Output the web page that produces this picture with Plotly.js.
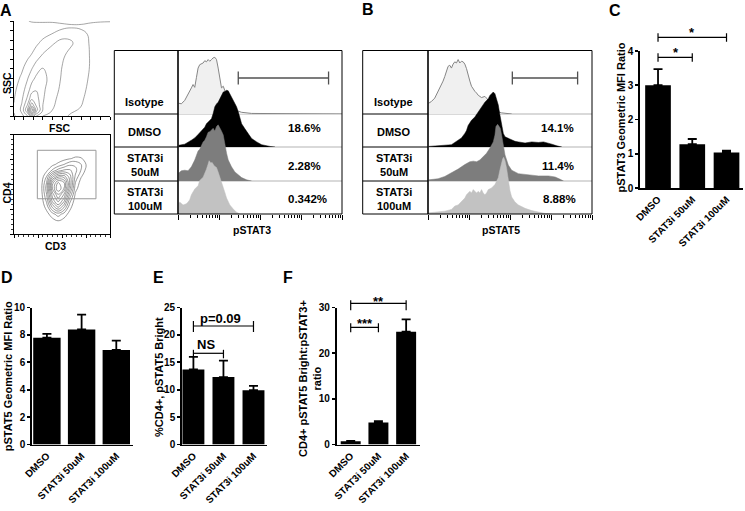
<!DOCTYPE html>
<html><head><meta charset="utf-8">
<script src="https://cdn.plot.ly/plotly-3.0.1.min.js"></script>
<style>html,body{margin:0;padding:0;background:#fff}#chart{width:745px;height:511px}</style>
</head><body><div id="chart"></div>
<script>
// ---------------- DATA ----------------
const categories = ['DMSO', 'STAT3i 50uM', 'STAT3i 100uM'];
const rowLabels = ['Isotype', 'DMSO', 'STAT3i<br>50uM', 'STAT3i<br>100uM'];
const pstat3_pct = ['18.6%', '2.28%', '0.342%'];
const pstat5_pct = ['14.1%', '11.4%', '8.88%'];

const pstat3_mfi = [3.0, 1.28, 1.04];
const pstat3_err = [0.47, 0.15, 0.05];
const pstat5_mfi = [7.8, 8.4, 6.9];
const pstat5_err = [0.27, 1.08, 0.68];
const pct_bright = [13.7, 12.3, 9.9];
const pct_bright_err = [2.3, 3.0, 0.8];
const bright_ratio = [0.7, 4.8, 24.7];
const bright_ratio_err = [0.1, 0.3, 2.7];
const no_err = [0, 0, 0];

// histograms (% of mode) vs intensity
const pstat3_iso_x = [10.4,12.1,14.6,17.6,21.2,23.3,25.6,28.1,30.9,33.9,41,45,49.4,54.3,59.6,65.5,72,79.1,86.9,95.4,105,115,127,139,168,202,244,295,356,625,100000];
const pstat3_iso_y = [19,18,24,34,46,52,47,64,81,87,90,94,92,96,93,96,99,100,96,81,58,46,49,40,25,16,8,5,3,1,0];
const pstat3_dmso_x = [10.4,14.6,21.2,25.6,30.9,37.3,45,49.4,54.3,65.5,72,79.1,86.9,95.4,105,115,127,139,153,168,184,202,222,244,268,295,324,356,429,518,625,829,1099,1758,2330];
const pstat3_dmso_y = [3,5,12,16,22,29,35,41,44,50,59,71,76,79,85,91,97,98,100,99,94,88,82,76,71,62,50,41,32,24,15,9,4,1,0];
const pstat3_s50_x = [10.4,12.1,14.6,17.6,21.2,25.6,30.9,33.9,41,45,49.4,54.3,59.6,65.5,72,79.1,86.9,95.4,105,115,127,139,153,168,202,244,295,356,472,625];
const pstat3_s50_y = [14,18,19,18,25,37,53,56,69,72,78,86,87,90,93,88,96,99,94,88,81,64,49,37,25,16,11,6,2,0];
const pstat3_s100_x = [10.4,11,13.3,16,17.6,19.3,21.2,25.6,30.9,33.9,41,45,49.4,54.3,57.4,63.1,68,76.1,86.9,95.4,105,115,127,139,153,168,184,222,268,324];
const pstat3_s100_y = [18,21,16,18,21,25,34,44,50,59,65,71,79,88,94,90,91,85,82,74,65,56,50,38,28,21,16,9,3,0];

const pstat5_iso_x = [10.4,12.1,14.6,17.6,21.2,23.3,25.6,28.1,30.9,33.9,37.3,41,45,49.4,54.3,59.6,65.5,72,79.1,86.9,95.4,105,115,127,139,153,168,202,244,268,324,391,472,625,1099];
const pstat5_iso_y = [19,22,28,40,49,58,66,75,84,86,81,88,92,90,96,90,93,92,88,80,66,58,49,43,40,37,33,29,31,28,19,11,5,2,0];
const pstat5_dmso_x = [10.4,17.6,25.6,37.3,45,54.3,65.5,79.1,86.9,95.4,115,139,168,202,244,295,324,356,391,429,472,518,569,625,687,755,910,1099,1326,1600,2330,3393,4941,6552,8686,10481,13900,18421];
const pstat5_dmso_y = [1,2,3,4,8,12,16,24,29,38,47,53,62,71,79,85,91,94,97,94,85,74,56,38,24,18,15,12,10,9,7,9,8,9,7,5,2,0];
const pstat5_s50_x = [10.4,17.6,25.6,37.3,54.3,79.1,105,127,153,184,222,268,324,391,429,454,499,538,580,625,687,755,910,1099,1600,2812,4941,8686,12648,16770,20237];
const pstat5_s50_y = [2,4,8,14,21,29,34,35,34,37,43,49,58,69,81,96,100,97,93,81,63,46,28,19,13,11,9,9,7,3,0];
const pstat5_s100_x = [10.4,17.6,25.6,37.3,45,54.3,65.5,79.1,86.9,95.4,105,115,127,139,153,168,184,202,222,244,268,295,356,429,518,569,625,661,700,755,829,910,1000,1099,1326,1600,2330,3393,4941,7197,10481];
const pstat5_s100_y = [2,3,5,8,14,16,22,28,34,37,40,37,43,40,37,40,37,43,37,34,37,43,46,52,64,78,93,97,100,94,80,58,41,30,21,16,10,6,3,1,0];

// gate ranges (intensity)
const pstat3_gate = [295, 47000];
const pstat5_gate = [1140, 44570];

// FSC/SSC density (estimated)
const fsc_grid = [0, 20, 35, 46, 58, 75, 100, 125, 150, 175, 200, 225, 250];
const ssc_grid = [0, 8, 16, 26, 45, 70, 100, 130, 160, 190, 215, 235, 250];
const scatter_density = [
  [0.9, 1.6, 2.8, 5, 3, 2, 1.5, 1.15, 0.9, 0.6, 0.3, 0, 0],
  [1.0, 2, 4, 8, 4.5, 2.5, 1.8, 1.35, 1.0, 0.7, 0.3, 0, 0],
  [1.05, 2.2, 5, 10, 5.5, 3, 2, 1.5, 1.15, 0.9, 0.4, 0, 0],
  [1.05, 2.1, 4.2, 7, 5, 3, 2.1, 1.6, 1.25, 1.0, 0.5, 0, 0],
  [0.95, 1.8, 3.2, 4.8, 4.5, 3.1, 2.2, 1.7, 1.35, 1.1, 0.7, 0.1, 0],
  [0.8, 1.5, 2.5, 3.5, 3.9, 3.2, 2.4, 1.8, 1.45, 1.2, 0.8, 0.1, 0],
  [0.6, 1.15, 1.9, 2.6, 3.2, 3.3, 2.6, 1.9, 1.5, 1.25, 0.9, 0.1, 0],
  [0.3, 0.8, 1.3, 1.8, 2.4, 2.95, 2.7, 2.0, 1.55, 1.3, 0.95, 0.1, 0],
  [0, 0.4, 0.8, 1.05, 1.5, 2.1, 2.7, 2.2, 1.6, 1.3, 0.95, 0.1, 0],
  [0, 0.1, 0.4, 0.6, 0.85, 1.3, 1.9, 2.5, 2.1, 1.4, 0.9, 0.1, 0],
  [0, 0, 0.1, 0.3, 0.5, 0.7, 1.05, 1.5, 1.8, 1.35, 0.8, 0.1, 0],
  [0, 0, 0, 0.1, 0.2, 0.4, 0.55, 0.75, 0.85, 0.8, 0.5, 0.1, 0],
  [0.3, 0.6, 0.9, 1.2, 1.25, 1.2, 1.15, 1.2, 1.25, 1.3, 1.25, 1.2, 1.15]
];

// CD3/CD4 density (estimated)
const cd3_grid = [22, 28, 34, 40, 46, 52, 58, 64, 70, 76, 82];
const cd4_grid = [5, 12, 20, 28, 34, 40, 46, 52, 58, 64, 70, 76, 82];
const cd_density = [
  [0,0,0,0,0,0,0,0,0,0,0],
  [0,0,0.1,0.4,0.7,0.4,0.1,0,0,0,0],
  [0,0,0.6,1.6,2.5,1.6,0.6,0,0,0,0],
  [0,0.2,1.5,4.5,6.5,4.5,1.5,0.2,0,0,0],
  [0,0.3,2.3,6.5,8.5,6.5,2.5,0.4,0,0,0],
  [0,0.4,3,7.5,10,8,4,0.8,0.1,0,0],
  [0,0.5,3.5,9,12,10,5.5,1.4,0.3,0,0],
  [0,0.4,3,8.5,11,10,6,2,0.5,0,0],
  [0,0.2,2,5.5,7.5,7.5,5.5,2.8,1.1,0.2,0],
  [0,0,0.8,2.2,3.5,4.2,4.2,3.3,1.9,0.5,0],
  [0,0,0.2,0.7,1.3,2,2.8,2.8,2,0.8,0],
  [0,0,0,0.1,0.3,0.6,0.9,1.2,1.1,0.5,0],
  [0,0,0,0,0,0.1,0.3,0.4,0.3,0.1,0]
];
const cd_gate = {x: [24.3, 85.4], y: [35.5, 84.3]};

// ---------------- LAYOUT HELPERS ----------------
const W = 745, H = 511;
const PX = v => v / W;
const PY = v => 1 - v / H;
const FONT = 'Liberation Sans, Arial, Helvetica, sans-serif';
const bf = (size, color) => ({family: FONT, size: size, color: color || '#000', weight: 'bold'});

const HIST_TOP = 50.5;
const PEAK_PX = 56.7;
const baselines = [114, 147, 181, 214];
const histFill = ['#f0f0f0', '#000000', '#7d7d7d', '#c2c2c2'];
const histLine = ['#858585', '#000000', '#7d7d7d', '#c2c2c2'];

const traces = [];
const layout = {
  width: W, height: H, margin: {l: 0, r: 0, t: 0, b: 0},
  paper_bgcolor: '#fff', plot_bgcolor: 'rgba(0,0,0,0)',
  showlegend: false, shapes: [], annotations: []
};

function histAxes(xName, yStart, x0, x1) {
  layout[xName] = {
    domain: [PX(x0), PX(x1)], type: 'log', range: [1, 5], anchor: 'y' + (yStart + 3),
    showline: false, ticks: 'outside', ticklen: 5, tickwidth: 1, tickcolor: '#000', dtick: 1,
    showticklabels: false, showgrid: false, zeroline: false,
    minor: {ticks: 'outside', ticklen: 3, tickwidth: 1, tickcolor: '#000', dtick: 'D1', showgrid: false}
  };
  for (let i = 0; i < 4; i++) {
    layout['yaxis' + (yStart + i)] = {
      domain: [PY(baselines[i]), PY(HIST_TOP)],
      range: [0, (baselines[i] - HIST_TOP) / PEAK_PX * 100],
      visible: false, anchor: xName.replace('axis', ''), fixedrange: true
    };
  }
}
histAxes('xaxis', 1, 178, 342);
histAxes('xaxis2', 5, 428, 592);

const histSets = [
  ['x', 1, [[pstat3_iso_x, pstat3_iso_y], [pstat3_dmso_x, pstat3_dmso_y], [pstat3_s50_x, pstat3_s50_y], [pstat3_s100_x, pstat3_s100_y]]],
  ['x2', 5, [[pstat5_iso_x, pstat5_iso_y], [pstat5_dmso_x, pstat5_dmso_y], [pstat5_s50_x, pstat5_s50_y], [pstat5_s100_x, pstat5_s100_y]]]
];
histSets.forEach(([xa, ys, sets]) => {
  sets.forEach((s, i) => {
    traces.push({
      type: 'scatter', mode: 'lines', x: s[0], y: s[1], xaxis: xa, yaxis: 'y' + (ys + i),
      fill: 'tozeroy', fillcolor: histFill[i],
      line: {color: histLine[i], width: i === 0 ? 1 : 0.5}, hoverinfo: 'skip'
    });
  });
});

function histFrame(left, divider, right, xa, gate, labelX, pctX, pcts, axisTitle, titleX) {
  const L = 'paper';
  layout.shapes.push({type: 'rect', xref: L, yref: L, x0: PX(left), x1: PX(right), y0: PY(214), y1: PY(HIST_TOP), line: {color: '#000', width: 1}});
  layout.shapes.push({type: 'line', xref: L, yref: L, x0: PX(divider), x1: PX(divider), y0: PY(214), y1: PY(HIST_TOP), line: {color: '#000', width: 1.6}});
  for (let i = 0; i < 3; i++) {
    layout.shapes.push({type: 'line', xref: L, yref: L, x0: PX(left), x1: PX(divider), y0: PY(baselines[i]), y1: PY(baselines[i]), line: {color: '#000', width: 1}});
    layout.shapes.push({type: 'line', xref: L, yref: L, layer: 'below', x0: PX(divider), x1: PX(right), y0: PY(baselines[i]), y1: PY(baselines[i]), line: {color: '#b3b3b3', width: 1}});
  }
  layout.shapes.push({type: 'line', xref: xa, yref: L, x0: gate[0], x1: gate[1], y0: PY(78), y1: PY(78), line: {color: '#505050', width: 1.3}});
  gate.forEach(g => layout.shapes.push({type: 'line', xref: xa, yref: L, x0: g, x1: g, y0: PY(71.5), y1: PY(84.5), line: {color: '#505050', width: 1.3}}));
  const labelY = [102, 131.7, 165, 199];
  rowLabels.forEach((t, i) => layout.annotations.push({text: t, x: PX(labelX), y: PY(labelY[i]), xref: L, yref: L, showarrow: false, xanchor: 'center', yanchor: 'middle', font: bf(11)}));
  const pctY = [128.3, 166, 199];
  pcts.forEach((t, i) => layout.annotations.push({text: t, x: PX(pctX[i]), y: PY(pctY[i]), xref: L, yref: L, showarrow: false, xanchor: 'center', yanchor: 'middle', font: bf(11.5)}));
  layout.annotations.push({text: axisTitle, x: PX(titleX), y: PY(230), xref: L, yref: L, showarrow: false, xanchor: 'center', yanchor: 'middle', font: bf(10.5)});
}
histFrame(114.3, 178, 342, 'x', pstat3_gate, 144.5, [304, 304, 307], pstat3_pct, 'pSTAT3', 252);
histFrame(362.7, 428, 592, 'x2', pstat5_gate, 393.5, [557.5, 558, 559], pstat5_pct, 'pSTAT5', 501);

// contour plots
const dotAxis = (dom, rng, anchor, mirror, dt, mdt) => ({
  domain: dom, range: rng, anchor: anchor, showline: true, mirror: mirror, linecolor: '#000', linewidth: 1,
  ticks: 'outside', ticklen: 3, tickwidth: 1, tickcolor: '#000', dtick: dt, showticklabels: false,
  showgrid: false, zeroline: false,
  minor: mdt ? {ticks: 'outside', ticklen: 1.8, tickwidth: 0.8, tickcolor: '#000', dtick: mdt, showgrid: false} : undefined
});
layout.xaxis3 = dotAxis([PX(14), PX(110)], [0, 250], 'y9', false, 25);
layout.yaxis9 = dotAxis([PY(116), PY(21)], [0, 250], 'x3', false, 25);
layout.xaxis4 = dotAxis([PX(14), PX(110)], [0, 100], 'y10', true, 25, 5);
layout.yaxis10 = dotAxis([PY(234), PY(134.7)], [0, 100], 'x4', true, 25, 5);

traces.push({type: 'contour', x: fsc_grid, y: ssc_grid, z: scatter_density, xaxis: 'x3', yaxis: 'y9',
  autocontour: false, contours: {coloring: 'none', start: 1, end: 10, size: 1},
  line: {color: '#6a6a6a', width: 0.6, smoothing: 1.2}, showscale: false, hoverinfo: 'skip'});
traces.push({type: 'contour', x: cd3_grid, y: cd4_grid, z: cd_density, xaxis: 'x4', yaxis: 'y10',
  autocontour: false, contours: {coloring: 'none', start: 1, end: 12, size: 1},
  line: {color: '#555', width: 0.6, smoothing: 1.2}, showscale: false, hoverinfo: 'skip'});
layout.shapes.push({type: 'rect', xref: 'x4', yref: 'y10', x0: cd_gate.x[0], x1: cd_gate.x[1], y0: cd_gate.y[0], y1: cd_gate.y[1], line: {color: '#9a9a9a', width: 1}});

[['SSC', 7.5, 82.5, -90], ['FSC', 60, 128.5, 0], ['CD4', 6.5, 193, -90], ['CD3', 56, 245.5, 0]].forEach(a =>
  layout.annotations.push({text: a[0], x: PX(a[1]), y: PY(a[2]), xref: 'paper', yref: 'paper', showarrow: false, textangle: a[3], xanchor: 'center', yanchor: 'middle', font: bf(10.5)}));

// bar charts
function barChart(n, yn, x0, x1, yTop, yBot, xr, yr, dt, vals, errs, w) {
  layout['xaxis' + n] = {domain: [PX(x0), PX(x1)], range: xr, anchor: 'y' + yn, type: 'category',
    showline: true, linecolor: '#000', linewidth: 1.8, ticks: '', tickangle: -45, tickfont: bf(10),
    showgrid: false, zeroline: false};
  layout['yaxis' + yn] = {domain: [PY(yBot), PY(yTop)], range: yr, dtick: dt, anchor: 'x' + n,
    showline: true, linecolor: '#000', linewidth: 1.8, ticks: 'outside', ticklen: 3, tickwidth: 1.6, tickcolor: '#000',
    tickfont: bf(10), showgrid: false, zeroline: false};
  traces.push({type: 'bar', x: categories, y: vals, xaxis: 'x' + n, yaxis: 'y' + yn, width: w,
    marker: {color: '#000', line: {width: 0}},
    error_y: {type: 'data', array: errs, arrayminus: no_err, symmetric: false, color: '#000', thickness: 1.8, width: 4.5},
    hoverinfo: 'skip'});
}
barChart(5, 11, 640, 743.3, 51, 188, [-0.526, 2.49], [0, 4], 1, pstat3_mfi, pstat3_err, 0.75);
barChart(6, 12, 32, 133.3, 307.5, 444.5, [-0.43, 2.49], [0, 10], 2, pstat5_mfi, pstat5_err, 0.79);
barChart(7, 13, 182, 266.7, 307.5, 444.5, [-0.38, 2.44], [0, 25], 5, pct_bright, pct_bright_err, 0.73);
barChart(8, 14, 336.7, 420, 307.5, 444.5, [-0.505, 2.5], [0, 30], 10, bright_ratio, bright_ratio_err, 0.72);

function bracket(xa, c0, c1, y, up, down) {
  const st = {color: '#000', width: 1.2};
  layout.shapes.push({type: 'line', xref: xa, yref: 'paper', x0: c0, x1: c1, y0: PY(y), y1: PY(y), line: st});
  [c0, c1].forEach(c => layout.shapes.push({type: 'line', xref: xa, yref: 'paper', x0: c, x1: c, y0: PY(y - up), y1: PY(y + down), line: st}));
}
bracket('x5', 0, 2, 37.3, 4, 4.5);
bracket('x5', 0, 1, 57.3, 4, 4.5);
bracket('x7', 0, 2, 326, 5, 6);
bracket('x7', 0, 1, 353.3, 3.5, 5);
bracket('x8', 0, 2, 303.3, 3, 7);
bracket('x8', 0, 1, 327.3, 4, 5);

const notes = [
  ['*', 692, 33, 13], ['*', 675.5, 53, 13],
  ['p=0.09', 220, 318, 13], ['NS', 206, 344.5, 13],
  ['**', 379, 301, 13], ['***', 365, 323, 13],
  ['A', 6, 10, 16], ['B', 367.5, 9.5, 16], ['C', 615, 10, 16],
  ['D', 6.7, 277.5, 16], ['E', 158.7, 277.5, 16], ['F', 288.3, 277, 16]
];
notes.forEach(a => layout.annotations.push({text: a[0], x: PX(a[1]), y: PY(a[2]), xref: 'paper', yref: 'paper', showarrow: false, xanchor: 'center', yanchor: 'middle', font: bf(a[3])}));

const titles = [
  ['pSTAT3 Geometric MFI Ratio', 620.5, 118],
  ['pSTAT5 Geometric MFI Ratio', 7.5, 376.7],
  ['%CD4+, pSTAT5 Bright', 159, 377],
  ['CD4+ pSTAT5 Bright:pSTAT3+<br>ratio', 310, 379]
];
titles.forEach(a => layout.annotations.push({text: a[0], x: PX(a[1]), y: PY(a[2]), xref: 'paper', yref: 'paper', showarrow: false, textangle: -90, xanchor: 'center', yanchor: 'middle', font: bf(11)}));

Plotly.newPlot('chart', traces, layout, {staticPlot: true, displayModeBar: false});
</script></body></html>
